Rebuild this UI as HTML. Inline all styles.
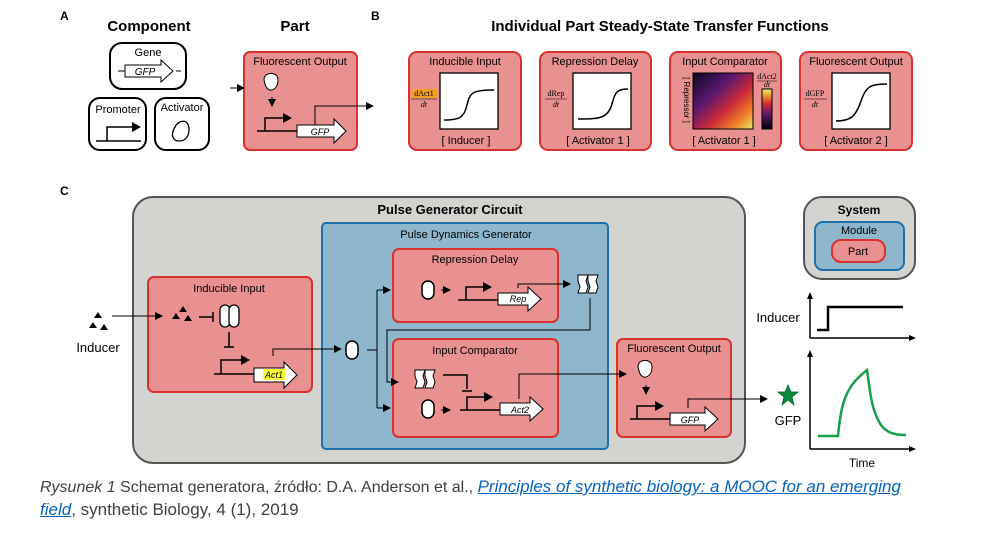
<!DOCTYPE html>
<html><head><meta charset="utf-8"><style>
body{margin:0;background:#fff;width:991px;height:544px;overflow:hidden;position:relative;font-family:"Liberation Sans",sans-serif}
svg{position:absolute;left:0;top:0}
.cap{position:absolute;left:40px;top:476px;font-size:16px;line-height:22px;color:#404040;white-space:nowrap;font-family:"Liberation Sans Narrow","Liberation Sans",sans-serif}
.cap a{color:#0563c1;text-decoration:underline;font-style:italic;font-family:"Liberation Sans",sans-serif;font-size:17px}
.cap .b{font-family:"Liberation Sans",sans-serif;font-size:17px}
</style></head><body>
<svg width="991" height="544" viewBox="0 0 991 544" font-family="Liberation Sans, sans-serif">
<defs>
<marker id="ah" markerWidth="8" markerHeight="8" refX="7" refY="4" orient="auto" markerUnits="userSpaceOnUse"><path d="M0,0 L8,4 L0,8 z" fill="#000"/></marker>
<linearGradient id="hm" x1="0" y1="0" x2="1" y2="1"><stop offset="0" stop-color="#0a0520"/><stop offset="0.35" stop-color="#5a1870"/><stop offset="0.6" stop-color="#c8283a"/><stop offset="0.8" stop-color="#f07a28"/><stop offset="1" stop-color="#e8e860"/></linearGradient>
<linearGradient id="cb" x1="0" y1="1" x2="0" y2="0"><stop offset="0" stop-color="#000"/><stop offset="0.4" stop-color="#6a1870"/><stop offset="0.65" stop-color="#d83030"/><stop offset="0.85" stop-color="#f0a030"/><stop offset="1" stop-color="#f0f080"/></linearGradient>
<g id="prot"><rect x="-6" y="-9" width="12" height="18" rx="6" fill="#fff" stroke="#000" stroke-width="1.5"/></g>
</defs>
<g font-weight="bold" font-size="12"><text x="60" y="20">A</text><text x="371" y="20">B</text><text x="60" y="195">C</text></g>
<g font-weight="bold" font-size="15" text-anchor="middle"><text x="149" y="31">Component</text><text x="295" y="31">Part</text><text x="660" y="31">Individual Part Steady-State Transfer Functions</text></g>
<g fill="#fff" stroke="#000" stroke-width="2">
<rect x="110" y="43" width="76" height="46" rx="12"/><rect x="89" y="98" width="57" height="52" rx="11"/><rect x="155" y="98" width="54" height="52" rx="11"/></g>
<g font-size="11" text-anchor="middle"><text x="148" y="56">Gene</text><text x="118" y="113">Promoter</text><text x="182" y="111">Activator</text></g>
<path d="M118,71h10M176,71h5" stroke="#000"/><path d="M125,65h36v-5l12,11l-12,11v-5h-36z" fill="#fff" stroke="#000"/>
<text x="145" y="75" font-size="10" font-style="italic" text-anchor="middle">GFP</text>
<path d="M96,141h45M107,141v-14h25" stroke="#000" fill="none" stroke-width="1.5"/><path d="M132,122l9,5l-9,5z"/>
<path d="M175,127c4,-8 14,-8 14,2c0,8 -4,12 -10,12c-6,0 -9,-6 -4,-14z" fill="#fff" stroke="#000" stroke-width="1.3"/>
<rect x="244" y="52" width="113" height="98" rx="6" fill="#e99090" stroke="#d93030" stroke-width="2"/>
<text x="300" y="65" font-size="11" text-anchor="middle">Fluorescent Output</text>
<path d="M230,88h14" stroke="#000" marker-end="url(#ah)"/>
<path d="M266,75c4,-3 12,-2 12,5c0,6 -3,9 -6,10c-3,1 -6,-2 -7,-6c-1,-4 -2,-6 1,-9z" fill="#fff" stroke="#000"/>
<path d="M272,97v9" stroke="#000" marker-end="url(#ah)"/>
<path d="M257,131h40M265,131v-13h18" stroke="#000" fill="none" stroke-width="1.5"/><path d="M283,113l9,5l-9,5z"/>
<path d="M297,125h37v-6l12,12l-12,12v-6h-37z" fill="#fff" stroke="#000"/><text x="320" y="135" font-size="9" font-style="italic" text-anchor="middle">GFP</text>
<path d="M315,125v-19h58" stroke="#000" fill="none" marker-end="url(#ah)"/>
<g fill="#e99090" stroke="#d93030" stroke-width="2"><rect x="409" y="52" width="112" height="98" rx="8"/><rect x="540" y="52" width="111" height="98" rx="8"/><rect x="670" y="52" width="111" height="98" rx="8"/><rect x="800" y="52" width="112" height="98" rx="8"/></g>
<g font-size="11" text-anchor="middle"><text x="465" y="65">Inducible Input</text><text x="595" y="65">Repression Delay</text><text x="725" y="65">Input Comparator</text><text x="856" y="65">Fluorescent Output</text>
<text x="466" y="144">[ Inducer ]</text><text x="598" y="144">[ Activator 1 ]</text><text x="724" y="144">[ Activator 1 ]</text><text x="856" y="144">[ Activator 2 ]</text></g>
<g fill="#fff" stroke="#000" stroke-width="1.3"><rect x="440" y="73" width="58" height="56"/><rect x="573" y="73" width="58" height="56"/><rect x="832" y="73" width="58" height="56"/></g>
<g fill="none" stroke="#000" stroke-width="1.5">
<path d="M444,120c15,0 20,-2 23,-15c3,-13 6,-15 27,-15"/>
<path d="M578,119c20,0 30,0 34,-15c3,-12 5,-15 16,-15"/>
<path d="M836,121c15,0 20,-5 25,-20c5,-15 10,-17 26,-17"/></g>
<rect x="693" y="73" width="60" height="56" fill="url(#hm)" stroke="#000"/><rect x="762" y="89" width="10" height="40" fill="url(#cb)" stroke="#000"/>
<text x="684" y="100" font-size="8" transform="rotate(90 684 100)" text-anchor="middle">[ Repressor ]</text>
<g font-family="Liberation Serif, serif" font-size="8" text-anchor="middle">
<rect x="411" y="89" width="26" height="9" fill="#f0a020"/><text x="424" y="96">dAct1</text><path d="M411,99h26" stroke="#000" stroke-width="0.6"/><text x="424" y="107" font-style="italic">dt</text>
<text x="556" y="96">dRep</text><path d="M545,99h22" stroke="#000" stroke-width="0.6"/><text x="556" y="107" font-style="italic">dt</text>
<text x="767" y="79">dAct2</text><path d="M757,81h20" stroke="#000" stroke-width="0.6"/><text x="767" y="87" font-style="italic">dt</text>
<text x="815" y="96">dGFP</text><path d="M804,99h23" stroke="#000" stroke-width="0.6"/><text x="815" y="107" font-style="italic">dt</text></g>
<rect x="133" y="197" width="612" height="266" rx="20" fill="#d3d3d0" stroke="#555" stroke-width="2"/>
<text x="450" y="214" font-size="13" font-weight="bold" text-anchor="middle">Pulse Generator Circuit</text>
<rect x="322" y="223" width="286" height="226" rx="4" fill="#8eb6cc" stroke="#1f6fa8" stroke-width="2"/>
<text x="466" y="238" font-size="11" text-anchor="middle">Pulse Dynamics Generator</text>
<g fill="#e99090" stroke="#d93030" stroke-width="2"><rect x="148" y="277" width="164" height="115" rx="6"/><rect x="393" y="249" width="165" height="73" rx="6"/><rect x="393" y="339" width="165" height="98" rx="6"/><rect x="617" y="339" width="114" height="98" rx="6"/></g>
<g font-size="11" text-anchor="middle"><text x="229" y="292">Inducible Input</text><text x="475" y="263">Repression Delay</text><text x="475" y="354">Input Comparator</text><text x="674" y="352">Fluorescent Output</text></g>
<g fill="#000"><path d="M98,312l4,6h-8z M93,322l4,6h-8z M104,324l4,6h-8z"/><path d="M183,306l4,6h-8z M176,313l4,6h-8z M188,315l4,6h-8z"/></g>
<text x="98" y="352" font-size="13" text-anchor="middle">Inducer</text>
<path d="M112,316h50" stroke="#000" marker-end="url(#ah)"/>
<path d="M199,317h14M213,312v10" stroke="#000" stroke-width="1.5"/>
<rect x="220" y="305" width="10" height="22" rx="5" fill="#fff" stroke="#000" stroke-width="1.3"/><rect x="229" y="305" width="10" height="22" rx="5" fill="#fff" stroke="#000" stroke-width="1.3"/>
<path d="M229,332v15M224,347h10" stroke="#000" stroke-width="1.5"/>
<path d="M214,374h40M221,374v-14h20" stroke="#000" fill="none" stroke-width="1.5"/><path d="M241,355l9,5l-9,5z"/>
<path d="M254,368h30v-6l13,13l-13,13v-6h-30z" fill="#fff" stroke="#000"/><rect x="263" y="369" width="22" height="11" fill="#ffff30"/><text x="274" y="378" font-size="9" font-style="italic" text-anchor="middle">Act1</text>
<path d="M273,356v-7h68" stroke="#000" fill="none" marker-end="url(#ah)"/>
<use href="#prot" x="352" y="350"/>
<path d="M367,350h10M377,290v118" stroke="#000" fill="none"/>
<path d="M377,290h13" stroke="#000" marker-end="url(#ah)"/><path d="M377,408h13" stroke="#000" marker-end="url(#ah)"/>
<use href="#prot" x="428" y="290"/><path d="M441,290h9" stroke="#000" marker-end="url(#ah)"/>
<path d="M458,300h40M466,300v-13h17" stroke="#000" fill="none" stroke-width="1.5"/><path d="M483,282l9,5l-9,5z"/>
<path d="M498,293h30v-6l13,12l-13,12v-6h-30z" fill="#fff" stroke="#000"/><text x="518" y="302" font-size="9" font-style="italic" text-anchor="middle">Rep</text>
<path d="M518,288v-4h52" stroke="#000" fill="none" marker-end="url(#ah)"/>
<path d="M578,275h10l-2,6l2,6l-2,6h-8l2,-6l-2,-6z M588,275h10l-2,6l2,6l-2,6h-8l2,-6l-2,-6z" fill="#fff" stroke="#000"/>
<path d="M590,298v32h-203v52h11" stroke="#000" fill="none" marker-end="url(#ah)"/>
<path d="M415,370h10l-2,6l2,6l-2,6h-8l2,-6l-2,-6z M425,370h10l-2,6l2,6l-2,6h-8l2,-6l-2,-6z" fill="#fff" stroke="#000"/>
<path d="M443,375h24v14M462,391h10" stroke="#000" fill="none" stroke-width="1.5"/>
<use href="#prot" x="428" y="409"/><path d="M441,410h9" stroke="#000" marker-end="url(#ah)"/>
<path d="M460,410h40M467,410v-13h17" stroke="#000" fill="none" stroke-width="1.5"/><path d="M484,392l9,5l-9,5z"/>
<path d="M500,403h30v-6l13,12l-13,12v-6h-30z" fill="#fff" stroke="#000"/><text x="520" y="413" font-size="9" font-style="italic" text-anchor="middle">Act2</text>
<path d="M519,399v-25h107" stroke="#000" fill="none" marker-end="url(#ah)"/>
<path d="M640,362c4,-3 12,-2 12,5c0,6 -3,9 -6,10c-3,1 -6,-2 -7,-6c-1,-4 -2,-6 1,-9z" fill="#fff" stroke="#000"/>
<path d="M646,385v9" stroke="#000" marker-end="url(#ah)"/>
<path d="M630,419h40M637,419v-13h18" stroke="#000" fill="none" stroke-width="1.5"/><path d="M655,401l9,5l-9,5z"/>
<path d="M670,413h35v-6l13,12l-13,12v-6h-35z" fill="#fff" stroke="#000"/><text x="690" y="423" font-size="9" font-style="italic" text-anchor="middle">GFP</text>
<path d="M688,408v-9h79" stroke="#000" fill="none" marker-end="url(#ah)"/>
<path d="M788,385l3,7h7l-6,5l2,8l-6,-5l-6,5l2,-8l-6,-5h7z" fill="#0a8a3a" stroke="#063" stroke-width="0.8"/>
<text x="788" y="425" font-size="13" text-anchor="middle">GFP</text>
<rect x="804" y="197" width="111" height="82" rx="18" fill="#d3d3d0" stroke="#555" stroke-width="2"/>
<text x="859" y="214" font-size="12" font-weight="bold" text-anchor="middle">System</text>
<rect x="815" y="222" width="89" height="48" rx="8" fill="#8eb6cc" stroke="#1f6fa8" stroke-width="2"/>
<text x="859" y="234" font-size="11" text-anchor="middle">Module</text>
<rect x="832" y="240" width="53" height="22" rx="9" fill="#e99090" stroke="#d93030" stroke-width="2"/>
<text x="858" y="255" font-size="11" text-anchor="middle">Part</text>
<text x="778" y="322" font-size="13" text-anchor="middle">Inducer</text>
<path d="M810,338v-44M810,338h104" stroke="#000" stroke-width="1.5" fill="none"/><path d="M810,292l-3,7h6z M916,338l-7,-3v6z"/>
<path d="M817,330h11v-23h75" stroke="#000" stroke-width="2.5" fill="none"/>
<path d="M810,449v-96M810,449h104" stroke="#000" stroke-width="1.5" fill="none"/><path d="M810,350l-3,7h6z M916,449l-7,-3v6z"/>
<path d="M818,436h20c2,-20 4,-35 12,-48c5,-8 10,-12 17,-18c3,20 4,40 14,55c5,7 12,10 25,10" stroke="#16a04a" stroke-width="2.5" fill="none"/>
<text x="862" y="467" font-size="12" text-anchor="middle">Time</text>
</svg>
<div class="cap"><i>Rysunek 1</i> Schemat generatora, źródło: D.A. Anderson et al., <a>Principles of synthetic biology: a MOOC for an emerging</a><br><a>field</a><span class="b">, synthetic Biology, 4 (1), 2019</span></div>
</body></html>
